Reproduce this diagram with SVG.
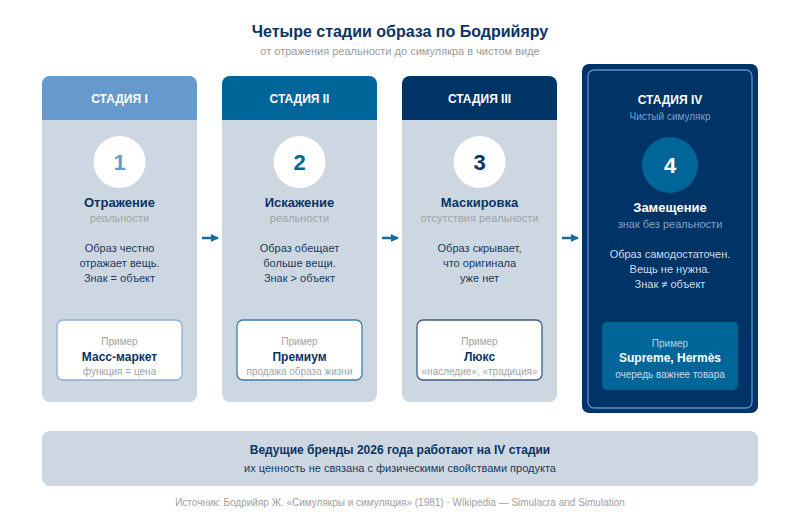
<svg xmlns="http://www.w3.org/2000/svg" width="800" height="520" viewBox="0 0 800 520">
<defs>
<style>
text{font-family:"Liberation Sans",Arial,sans-serif;text-anchor:middle}
.title{font-size:16px;font-weight:bold;fill:#0b3463}
.sub{font-size:11px;fill:#9a9a9a}
.card{fill:#cdd7e1}
.hdr{font-size:12px;font-weight:bold;fill:#ffffff}
.circ{fill:#ffffff}
.num{font-size:22px;font-weight:bold}
.name{font-size:13px;font-weight:bold;fill:#0b3463}
.nsub{font-size:11px;fill:#a0a4a8}
.body{font-size:11px;fill:#1b3a60}
.ex{fill:#ffffff;stroke-width:1.3}
.exl{font-size:10px;fill:#a0a4a8}
.exn{font-size:12px;font-weight:bold;fill:#0b3463}
.exs{font-size:10px;fill:#a0a4a8}
.conn{stroke:#1a6a9a;stroke-width:2.5;fill:none}
</style>
<marker id="ah" viewBox="0 0 10 10" refX="9" refY="5" markerWidth="3.2" markerHeight="3.2" orient="auto"><path d="M0,0 L10,5 L0,10 z" fill="#1a6a9a"/></marker>
</defs>
<rect width="800" height="520" fill="#ffffff"/>
<text class="title" x="400" y="37">Четыре стадии образа по Бодрийяру</text>
<text class="sub" x="400" y="55">от отражения реальности до симулякра в чистом виде</text>

<g id="stage1">
<rect class="card" x="42" y="76" width="155" height="326" rx="8"/>
<path d="M42,120 V84 a8,8 0 0 1 8,-8 H189 a8,8 0 0 1 8,8 V120 z" fill="#6699cc"/>
<text class="hdr" x="119.5" y="103">СТАДИЯ I</text>
<circle class="circ" cx="119.5" cy="162" r="26"/>
<text class="num" x="119.5" y="170" fill="#6699cc">1</text>
<text class="name" x="119.5" y="207">Отражение</text>
<text class="nsub" x="119.5" y="222">реальности</text>
<text class="body" x="119.5" y="252">Образ честно</text>
<text class="body" x="119.5" y="267">отражает вещь.</text>
<text class="body" x="119.5" y="282">Знак = объект</text>
<rect class="ex" x="57" y="320" width="125" height="60" rx="6" stroke="#8fb0d6"/>
<text class="exl" x="119.5" y="345">Пример</text>
<text class="exn" x="119.5" y="361">Масс-маркет</text>
<text class="exs" x="119.5" y="375">функция = цена</text>
</g>

<g id="stage2">
<rect class="card" x="222" y="76" width="155" height="326" rx="8"/>
<path d="M222,120 V84 a8,8 0 0 1 8,-8 H369 a8,8 0 0 1 8,8 V120 z" fill="#006699"/>
<text class="hdr" x="299.5" y="103">СТАДИЯ II</text>
<circle class="circ" cx="299.5" cy="162" r="26"/>
<text class="num" x="299.5" y="170" fill="#006699">2</text>
<text class="name" x="299.5" y="207">Искажение</text>
<text class="nsub" x="299.5" y="222">реальности</text>
<text class="body" x="299.5" y="252">Образ обещает</text>
<text class="body" x="299.5" y="267">больше вещи.</text>
<text class="body" x="299.5" y="282">Знак &gt; объект</text>
<rect class="ex" x="237" y="320" width="125" height="60" rx="6" stroke="#3a7eaa"/>
<text class="exl" x="299.5" y="345">Пример</text>
<text class="exn" x="299.5" y="361">Премиум</text>
<text class="exs" x="299.5" y="375">продажа образа жизни</text>
</g>

<g id="stage3">
<rect class="card" x="402" y="76" width="155" height="326" rx="8"/>
<path d="M402,120 V84 a8,8 0 0 1 8,-8 H549 a8,8 0 0 1 8,8 V120 z" fill="#003366"/>
<text class="hdr" x="479.5" y="103">СТАДИЯ III</text>
<circle class="circ" cx="479.5" cy="162" r="26"/>
<text class="num" x="479.5" y="170" fill="#0b3463">3</text>
<text class="name" x="479.5" y="207">Маскировка</text>
<text class="nsub" x="479.5" y="222">отсутствия реальности</text>
<text class="body" x="479.5" y="252">Образ скрывает,</text>
<text class="body" x="479.5" y="267">что оригинала</text>
<text class="body" x="479.5" y="282">уже нет</text>
<rect class="ex" x="417" y="320" width="125" height="60" rx="6" stroke="#3d5e85"/>
<text class="exl" x="479.5" y="345">Пример</text>
<text class="exn" x="479.5" y="361">Люкс</text>
<text class="exs" x="479.5" y="375">«наследие», «традиция»</text>
</g>

<g id="stage4">
<rect x="582" y="64" width="176" height="349" rx="7" fill="#003366"/>
<rect x="588" y="70" width="164" height="338" rx="6" fill="none" stroke="#5f8fc4" stroke-width="1.3"/>
<text class="hdr" x="670" y="104">СТАДИЯ IV</text>
<text x="670" y="120" font-size="10" fill="#7f9ec4">Чистый симулякр</text>
<circle cx="670" cy="165" r="28" fill="#006699"/>
<text class="num" x="670" y="173" fill="#ffffff">4</text>
<text x="670" y="212" font-size="13" font-weight="bold" fill="#ffffff">Замещение</text>
<text x="670" y="228" font-size="11" fill="#7fa3cc">знак без реальности</text>
<text x="670" y="258" font-size="11" fill="#d2dcea">Образ самодостаточен.</text>
<text x="670" y="273" font-size="11" fill="#d2dcea">Вещь не нужна.</text>
<text x="670" y="288" font-size="11" fill="#d2dcea">Знак ≠ объект</text>
<rect x="602" y="322" width="136" height="68" rx="5" fill="#006699"/>
<text x="670" y="347" font-size="10" fill="#bcd0e4">Пример</text>
<text x="670" y="362" font-size="12" font-weight="bold" fill="#ffffff">Supreme, Hermès</text>
<text x="670" y="378" font-size="10" fill="#c8d8ea">очередь важнее товара</text>
</g>

<g id="connectors">
<line class="conn" x1="202" y1="238" x2="218" y2="238" marker-end="url(#ah)"/>
<line class="conn" x1="382" y1="238" x2="398" y2="238" marker-end="url(#ah)"/>
<line class="conn" x1="562" y1="238" x2="578" y2="238" marker-end="url(#ah)"/>
</g>

<g id="summary">
<rect x="42" y="431" width="716" height="55" rx="8" fill="#cdd7e1"/>
<text x="400" y="454" font-size="12" font-weight="bold" fill="#0b3463">Ведущие бренды 2026 года работают на IV стадии</text>
<text x="400" y="472" font-size="11" fill="#1b3a60">их ценность не связана с физическими свойствами продукта</text>
</g>
<text x="400" y="506" font-size="10" fill="#a0a0a0">Источник: Бодрийяр Ж. «Симулякры и симуляция» (1981) · Wikipedia — Simulacra and Simulation</text>
</svg>
